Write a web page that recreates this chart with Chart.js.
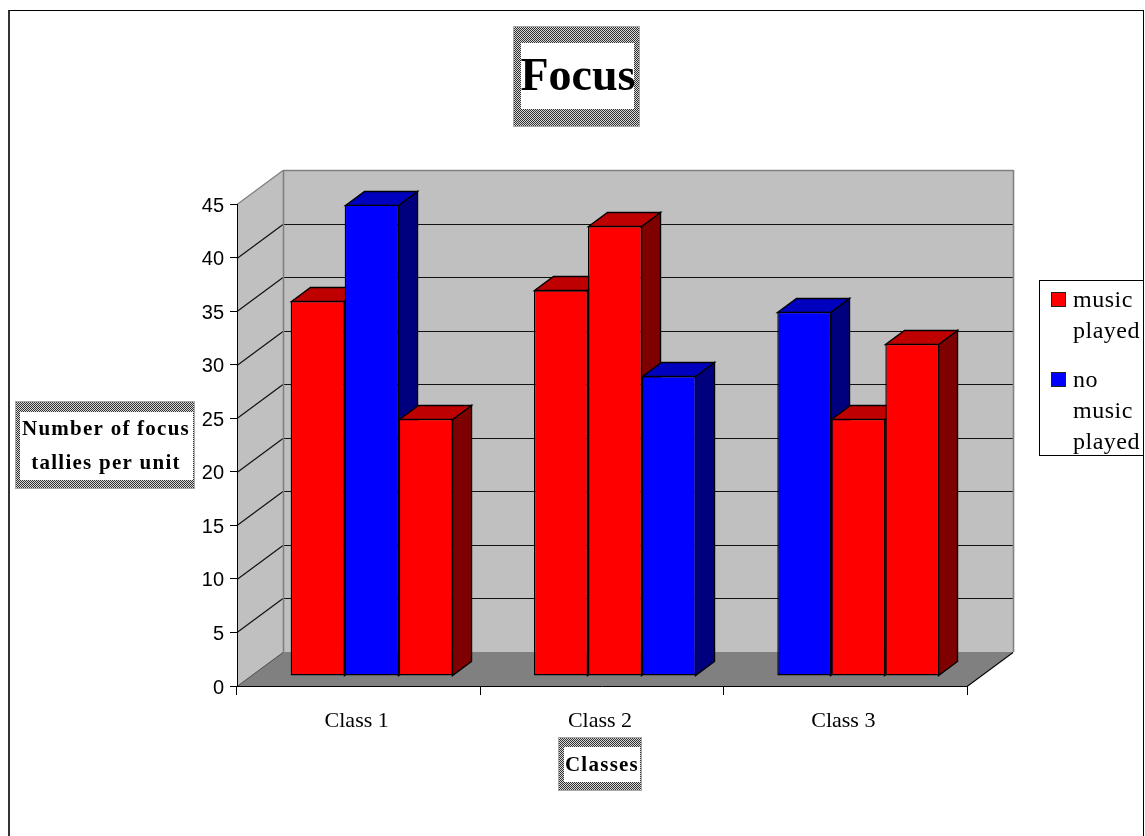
<!DOCTYPE html>
<html>
<head>
<meta charset="utf-8">
<title>Focus</title>
<script src="https://cdn.jsdelivr.net/npm/chart.js@4"></script>
<style>
  html, body { margin: 0; padding: 0; background: #fff; }
  #wrap { position: relative; width: 1145px; height: 836px; overflow: hidden; }
  #outer { position: absolute; left: 8px; top: 10px; width: 1133px; height: 840px; border: 1px solid #000; border-left: 2px solid #333; box-sizing: content-box; }
  canvas { position: absolute; left: 0; top: 0; }
</style>
</head>
<body>
<div id="wrap">
  <div id="outer"></div>
  <canvas id="chart" width="1145" height="836"></canvas>
</div>
<script>
// Focus tallies per class, one bar group for each class
const categories = ['Class 1', 'Class 2', 'Class 3'];
const firstBars = [35, 36, 34];
const secondBars = [44, 42, 24];
const thirdBars = [24, 28, 31];

// Each bar is coloured by whether music was played during that unit
const MUSIC = 'music';
const NO_MUSIC = 'none';
const firstKinds = [MUSIC, MUSIC, NO_MUSIC];
const secondKinds = [NO_MUSIC, MUSIC, MUSIC];
const thirdKinds = [MUSIC, NO_MUSIC, MUSIC];

const titleText = 'Focus';
const xTitleText = 'Classes';
const yTitleLines = ['Number of focus', 'tallies per unit'];
const yTicks = [0, 5, 10, 15, 20, 25, 30, 35, 40, 45];
const legendRows = [
  { kind: MUSIC, lines: ['music', 'played'] },
  { kind: NO_MUSIC, lines: ['no', 'music', 'played'] }
];

const palette = {
  music: { front: '#ff0000', top: '#bf0000', side: '#7f0000' },
  none: { front: '#0000ff', top: '#0000bf', side: '#00007f' }
};

// Projection of the box: full depth of the plot, and where the bars sit within it
const DEPTH = { x: 46, y: -34 };
const BAR_NEAR = { x: 13, y: -10 };
const BAR_FAR = { x: 32, y: -24 };

const SERIF = '"Liberation Serif", serif';

// Checker used on the drop frames around the titles
function checkerPattern(ctx) {
  const tile = document.createElement('canvas');
  tile.width = tile.height = 2;
  const t = tile.getContext('2d');
  t.fillStyle = '#d8d8d8';
  t.fillRect(0, 0, 2, 2);
  t.fillStyle = '#303030';
  t.fillRect(0, 0, 1, 1);
  t.fillRect(1, 1, 1, 1);
  return ctx.createPattern(tile, 'repeat');
}

function poly(ctx, pts, fill, stroke, width) {
  ctx.beginPath();
  pts.forEach((p, i) => (i ? ctx.lineTo(p[0], p[1]) : ctx.moveTo(p[0], p[1])));
  ctx.closePath();
  if (fill) { ctx.fillStyle = fill; ctx.fill(); }
  if (stroke) { ctx.strokeStyle = stroke; ctx.lineWidth = width || 1; ctx.stroke(); }
}

function line(ctx, x1, y1, x2, y2, color, width) {
  ctx.beginPath();
  ctx.moveTo(x1, y1);
  ctx.lineTo(x2, y2);
  ctx.strokeStyle = color;
  ctx.lineWidth = width || 1;
  ctx.stroke();
}

// Back wall, side wall, floor and their gridlines
const wallsPlugin = {
  id: 'walls',
  beforeDraw(chart) {
    const { ctx, chartArea: a, scales: { y } } = chart;
    const dx = DEPTH.x, dy = DEPTH.y;
    ctx.save();
    poly(ctx, [[a.left, a.top], [a.left + dx, a.top + dy], [a.left + dx, a.bottom + dy], [a.left, a.bottom]], '#c0c0c0');
    poly(ctx, [[a.left + dx, a.top + dy], [a.right + dx, a.top + dy], [a.right + dx, a.bottom + dy], [a.left + dx, a.bottom + dy]], '#c0c0c0');
    poly(ctx, [[a.left, a.bottom], [a.right, a.bottom], [a.right + dx, a.bottom + dy], [a.left + dx, a.bottom + dy]], '#808080');
    yTicks.forEach(v => {
      if (v === 0) return;
      const py = Math.round(y.getPixelForValue(v)) + 0.5;
      if (v < 45) line(ctx, a.left + dx, py + dy, a.right + dx, py + dy, '#111', 1.2);
      line(ctx, a.left, py, a.left + dx, py + dy, v === 45 ? '#808080' : '#111', 1.2);
    });
    // wall outlines
    line(ctx, a.left + dx + 0.5, a.top + dy, a.left + dx + 0.5, a.bottom + dy, '#808080', 1.6);
    line(ctx, a.left + dx, a.top + dy + 0.5, a.right + dx, a.top + dy + 0.5, '#808080', 1.6);
    line(ctx, a.right + dx + 0.5, a.top + dy, a.right + dx + 0.5, a.bottom + dy, '#808080', 1.6);
    line(ctx, a.left + dx, a.bottom + dy + 0.5, a.right + dx, a.bottom + dy + 0.5, '#808080', 1);
    line(ctx, a.right, a.bottom + 0.5, a.right + dx, a.bottom + dy + 0.5, '#000', 1.2);
    line(ctx, a.left, a.bottom + 0.5, a.left + dx, a.bottom + dy + 0.5, '#505050');
    ctx.restore();
  }
};

// Side and top faces, painted left to right so nearer neighbours overlap correctly;
// the front faces are the library's own bars, moved onto the depth plane
const depthBarsPlugin = {
  id: 'depthBars',
  beforeDatasetsDraw(chart) {
    const { ctx } = chart;
    const ddx = BAR_FAR.x - BAR_NEAR.x, ddy = BAR_FAR.y - BAR_NEAR.y;
    const items = [];
    chart.data.datasets.forEach((ds, di) => {
      chart.getDatasetMeta(di).data.forEach((el, i) => {
        items.push({ el, kind: ds.kinds[i] });
      });
    });
    items.sort((a, b) => a.el.x - b.el.x);
    ctx.save();
    ctx.translate(BAR_NEAR.x, BAR_NEAR.y);
    items.forEach(({ el, kind }) => {
      const c = palette[kind];
      const l = Math.round(el.x - el.width / 2) + 0.5;
      const r = Math.round(el.x + el.width / 2) - 0.5;
      const t = Math.round(el.y) + 0.5;
      const b = Math.round(el.base) - 0.5;
      poly(ctx, [[r, t], [r + ddx, t + ddy], [r + ddx, b + ddy], [r, b]], c.side, '#000', 1.4);
      poly(ctx, [[l, t], [r, t], [r + ddx, t + ddy], [l + ddx, t + ddy]], c.top, '#000', 1.4);
    });
    ctx.restore();
  },
  beforeDatasetDraw(chart) {
    chart.ctx.save();
    chart.ctx.translate(BAR_NEAR.x, BAR_NEAR.y);
  },
  afterDatasetDraw(chart) {
    chart.ctx.restore();
  }
};

// Framed headings and the boxed legend
function framedLabel(ctx, pattern, outer, inner, lines, font, spacing, lineHeight, cx, firstY) {
  ctx.save();
  ctx.fillStyle = '#a8a8a8';
  ctx.fillRect(outer[0], outer[1], outer[2] - outer[0], outer[3] - outer[1]);
  ctx.fillStyle = pattern;
  ctx.fillRect(outer[0] + 1, outer[1] + 1, outer[2] - outer[0] - 2, outer[3] - outer[1] - 2);
  ctx.fillStyle = '#ffffff';
  ctx.fillRect(inner[0], inner[1], inner[2] - inner[0], inner[3] - inner[1]);
  ctx.font = font;
  ctx.letterSpacing = spacing;
  ctx.fillStyle = '#000';
  ctx.textAlign = 'center';
  ctx.textBaseline = 'alphabetic';
  lines.forEach((s, i) => ctx.fillText(s, cx, firstY + i * lineHeight));
  ctx.restore();
}

const labelsPlugin = {
  id: 'boxedLabels',
  afterDraw(chart) {
    const { ctx } = chart;
    const pattern = checkerPattern(ctx);
    framedLabel(ctx, pattern, [513, 26, 640, 127], [521, 43, 634, 109], [titleText],
      'bold 46px ' + SERIF, '0px', 0, 578, 90);
    framedLabel(ctx, pattern, [15, 401, 195, 489], [20, 412, 193, 480], yTitleLines,
      'bold 21px ' + SERIF, '1.25px', 34, 106, 435);
    framedLabel(ctx, pattern, [558, 737, 642, 791], [564, 747, 640, 782], [xTitleText],
      'bold 21px ' + SERIF, '1.25px', 0, 602, 771);

    // legend
    ctx.save();
    ctx.fillStyle = '#fff';
    ctx.fillRect(1039, 280, 104, 176);
    ctx.strokeStyle = '#000';
    ctx.lineWidth = 1;
    ctx.strokeRect(1039.5, 280.5, 104, 175);
    ctx.font = '24px ' + SERIF;
    ctx.letterSpacing = '0.5px';
    ctx.textAlign = 'left';
    ctx.textBaseline = 'alphabetic';
    let baseline = 307;
    let swatchY = 292;
    legendRows.forEach(row => {
      ctx.fillStyle = palette[row.kind].front;
      ctx.fillRect(1051, swatchY, 15, 15);
      ctx.strokeStyle = '#222';
      ctx.strokeRect(1051.5, swatchY + 0.5, 14, 14);
      ctx.fillStyle = '#000';
      row.lines.forEach(s => {
        ctx.fillText(s, 1073, baseline);
        baseline += 31;
      });
      baseline += 18;
      swatchY += 80;
    });
    ctx.restore();
  }
};

new Chart(document.getElementById('chart'), {
  type: 'bar',
  data: {
    labels: categories,
    datasets: [firstBars, secondBars, thirdBars].map((values, i) => {
      const kinds = [firstKinds, secondKinds, thirdKinds][i];
      return {
        data: values,
        kinds,
        backgroundColor: kinds.map(k => palette[k].front),
        borderColor: '#000000',
        borderWidth: 1.4,
        borderSkipped: false,
        barPercentage: 1,
        categoryPercentage: 0.666
      };
    })
  },
  options: {
    responsive: false,
    animation: false,
    events: [],
    layout: { padding: { left: 0, right: 178, top: 204, bottom: 0 } },
    plugins: { legend: { display: false }, title: { display: false }, tooltip: { enabled: false } },
    scales: {
      x: {
        grid: { drawOnChartArea: false, color: '#000', tickLength: 9, offset: true },
        border: { color: '#000', width: 1 },
        ticks: { color: '#000', font: { family: 'Liberation Serif', size: 22 }, padding: 13, maxRotation: 0, labelOffset: -2 },
        afterFit(s) { s.height = 150; }
      },
      y: {
        min: 0,
        max: 45,
        afterBuildTicks(s) { s.ticks = yTicks.map(value => ({ value })); },
        grid: { drawOnChartArea: false, color: '#000', tickLength: 7 },
        border: { color: '#000', width: 1 },
        ticks: { color: '#000', font: { family: 'Liberation Sans', size: 20 }, padding: 6, labelOffset: 2 },
        afterFit(s) { s.width = 237; }
      }
    }
  },
  plugins: [wallsPlugin, depthBarsPlugin, labelsPlugin]
});
</script>
</body>
</html>
